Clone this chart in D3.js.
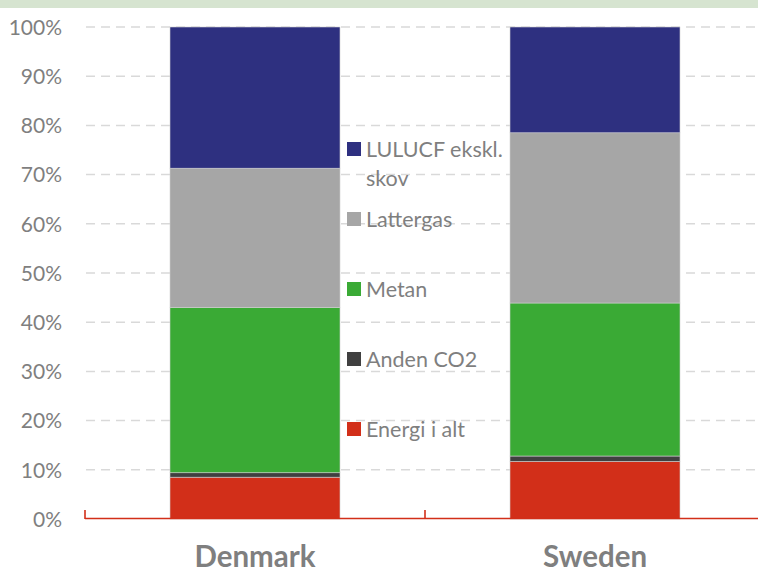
<!DOCTYPE html>
<html>
<head>
<meta charset="utf-8">
<script src="https://cdn.jsdelivr.net/npm/d3@7"></script>
<style>
  html, body { margin: 0; padding: 0; background: #ffffff; }
  svg { display: block; }
  text { font-family: Lato, "Open Sans", sans-serif; }
</style>
</head>
<body>
<svg id="chart" width="758" height="572"></svg>
<script>
// Shares of emissions by source, in percent of each country's total
const countries = ["Denmark", "Sweden"];
const seriesNames = ["Energi i alt", "Anden CO2", "Metan", "Lattergas", "LULUCF ekskl. skov"];
const energi   = [8.5, 11.7];
const andenCO2 = [0.9, 1.1];
const metan    = [33.6, 31.1];
const lattergas = [28.3, 34.6];
const lulucf   = [28.7, 21.5];
const yTicks = [0, 10, 20, 30, 40, 50, 60, 70, 80, 90, 100];
const seriesColors = ["#d22f19", "#404040", "#3aaa35", "#a6a6a6", "#2e3080"];

const seriesValues = [energi, andenCO2, metan, lattergas, lulucf];
const rows = countries.map((c, i) => {
  const r = { country: c };
  seriesNames.forEach((s, k) => { r[s] = seriesValues[k][i]; });
  return r;
});

const svg = d3.select("#chart");
const W = 758, H = 572;

// thin band across the top
svg.append("rect").attr("x", 0).attr("y", 0).attr("width", W).attr("height", 8)
  .attr("fill", "#d6e4d0");

const x = d3.scaleBand().domain(countries).range([85, 765])
  .paddingInner(0.5).paddingOuter(0.25);
const y = d3.scaleLinear().domain([0, 100]).range([519, 27]);

// dashed gridlines
svg.append("g").selectAll("line").data(yTicks.filter(t => t > 0)).join("line")
  .attr("x1", 86).attr("x2", W)
  .attr("y1", d => y(d)).attr("y2", d => y(d))
  .attr("stroke", "#d9d9d9").attr("stroke-width", 1.5)
  .attr("stroke-dasharray", "9,6");

// y axis labels
const yAxis = d3.axisLeft(y).tickValues(yTicks).tickFormat(d => d + "%").tickSize(0).tickPadding(0);
const gy = svg.append("g").attr("transform", "translate(62,0)").call(yAxis);
gy.select(".domain").remove();
gy.selectAll("text").attr("fill", "#7f7f7f").attr("font-size", 21).attr("dy", "0.35em");

// stacked bars
const stack = d3.stack().keys(seriesNames)(rows);
svg.append("g").selectAll("g").data(stack).join("g")
  .attr("fill", (d, i) => seriesColors[i])
  .selectAll("rect").data(d => d).join("rect")
  .attr("x", d => x(d.data.country))
  .attr("width", x.bandwidth())
  .attr("y", d => y(d[1]))
  .attr("height", d => y(d[0]) - y(d[1]))
  .attr("stroke", "#cfcfcf").attr("stroke-width", 0.6);

// category axis along the bottom
const xAxis = d3.axisBottom(x).tickSize(0).tickPadding(0);
const gx = svg.append("g").attr("transform", "translate(0,519)").call(xAxis);
gx.select(".domain").remove();
gx.selectAll("text").attr("fill", "#7f7f7f").attr("font-size", 29.5)
  .attr("font-weight", "bold").attr("dy", "0").attr("y", 48);

svg.append("line").attr("x1", 85).attr("x2", W).attr("y1", 518.5).attr("y2", 518.5)
  .attr("stroke", "#d22f19").attr("stroke-width", 1.6);
const boundaries = [85, x(countries[1]) - x.step() * x.paddingInner() / 2];
svg.append("g").selectAll("line").data(boundaries).join("line")
  .attr("x1", d => d).attr("x2", d => d).attr("y1", 510).attr("y2", 519)
  .attr("stroke", "#d22f19").attr("stroke-width", 1.6);

// legend, top item first
const legendItems = seriesNames.map((s, i) => ({ name: s, color: seriesColors[i] })).reverse();
const lg = svg.append("g").attr("transform", "translate(347,0)");
const item = lg.selectAll("g").data(legendItems).join("g")
  .attr("transform", (d, i) => `translate(0,${149 + i * 70})`);
item.append("rect").attr("x", 0).attr("y", -7).attr("width", 14).attr("height", 14)
  .attr("fill", d => d.color);
item.each(function (d) {
  const t = d3.select(this).append("text").attr("x", 19).attr("fill", "#7f7f7f")
    .attr("font-size", 21.5);
  const lines = d.name === "LULUCF ekskl. skov" ? ["LULUCF ekskl.", "skov"] : [d.name];
  lines.forEach((ln, k) => {
    t.append("tspan").attr("x", 19).attr("y", k * 29).attr("dy", "0.35em").text(ln);
  });
});
</script>
</body>
</html>
